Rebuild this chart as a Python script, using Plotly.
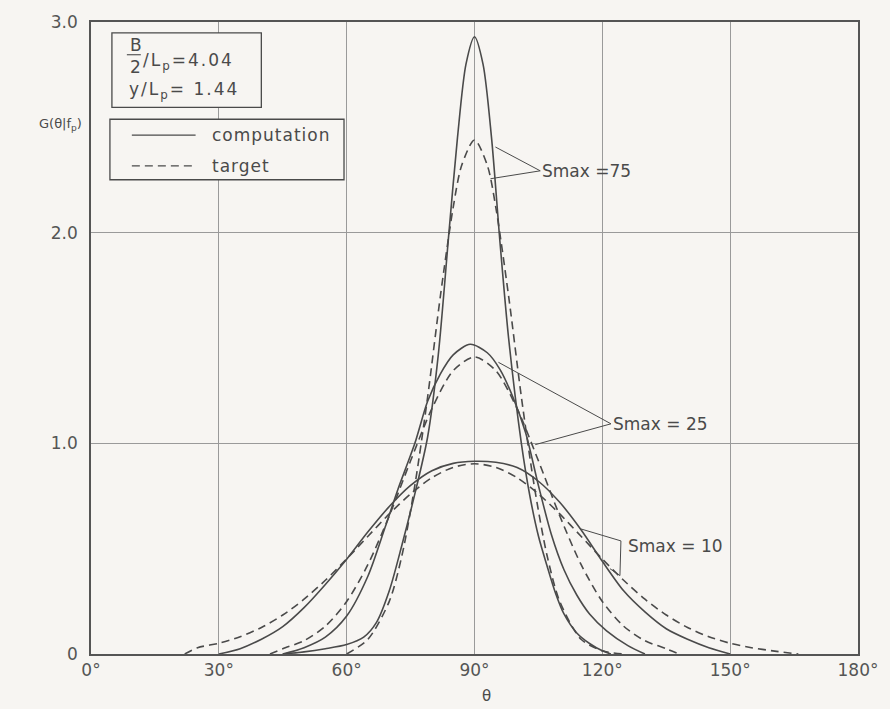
import plotly.graph_objects as go

# ---------------- data ----------------
# Smax = 75
th_75_comp = [45, 50, 55, 60, 64, 67, 70, 73, 76, 79, 81.5, 84, 86, 88, 90, 92, 94, 96, 98, 101, 103, 105, 107, 109, 111, 114, 117, 120, 122]
g_75_comp = [0.0, 0.01, 0.025, 0.045, 0.08, 0.15, 0.3, 0.52, 0.76, 1.03, 1.42, 2.0, 2.45, 2.8, 2.93, 2.8, 2.45, 1.95, 1.5, 1.0, 0.75, 0.56, 0.42, 0.29, 0.19, 0.1, 0.05, 0.015, 0.0]
th_75_tgt = [60, 65, 70, 73, 76, 79, 82, 85, 87, 90, 93, 95, 98, 101, 104, 107, 110, 115, 120, 125]
g_75_tgt = [0.0, 0.07, 0.25, 0.47, 0.8, 1.22, 1.7, 2.12, 2.32, 2.44, 2.32, 2.12, 1.7, 1.22, 0.8, 0.47, 0.25, 0.07, 0.015, 0.0]

# Smax = 25
th_25_comp = [45, 50, 55, 60, 65, 69, 72, 76, 79, 82, 85, 89, 93, 96, 99, 102, 105, 108, 111, 114, 117, 121, 126, 130]
g_25_comp = [0.0, 0.03, 0.08, 0.18, 0.37, 0.6, 0.78, 1.0, 1.2, 1.33, 1.42, 1.47, 1.43, 1.35, 1.22, 1.05, 0.8, 0.57, 0.4, 0.28, 0.19, 0.11, 0.04, 0.0]
th_25_tgt = [42, 45, 50, 55, 60, 65, 70, 75, 80, 85, 90, 95, 100, 105, 110, 115, 120, 125, 130, 135, 138]
g_25_tgt = [0.0, 0.025, 0.063, 0.132, 0.249, 0.425, 0.656, 0.917, 1.165, 1.345, 1.41, 1.345, 1.165, 0.917, 0.656, 0.425, 0.249, 0.132, 0.063, 0.025, 0.0]

# Smax = 10
th_10_comp = [30, 35, 40, 45, 50, 55, 60, 65, 70, 75, 80, 85, 90, 95, 100, 105, 110, 115, 120, 125, 130, 135, 140, 145, 150]
g_10_comp = [0.0, 0.025, 0.07, 0.13, 0.22, 0.33, 0.45, 0.58, 0.7, 0.8, 0.87, 0.905, 0.915, 0.91, 0.885, 0.82, 0.72, 0.59, 0.44, 0.3, 0.2, 0.12, 0.07, 0.03, 0.0]
th_10_tgt = [22, 25, 30, 35, 40, 45, 50, 55, 60, 65, 70, 75, 80, 85, 90, 95, 100, 105, 110, 115, 120, 125, 130, 135, 140, 145, 150, 155, 160, 166]
g_10_tgt = [0.0, 0.03, 0.051, 0.082, 0.126, 0.185, 0.26, 0.35, 0.451, 0.559, 0.665, 0.76, 0.837, 0.886, 0.903, 0.886, 0.837, 0.76, 0.665, 0.559, 0.451, 0.35, 0.26, 0.185, 0.126, 0.082, 0.051, 0.03, 0.015, 0.0]

x_ticks = [0, 30, 60, 90, 120, 150, 180]
x_tick_text = ["0°", "30°", "60°", "90°", "120°", "150°", "180°"]
y_ticks = [0, 1, 2, 3]
y_tick_text = ["0", "1.0", "2.0", "3.0"]

# ---------------- styling ----------------
INK = "#4a4a4a"
BG = "#f7f5f2"
FONT = "DejaVu Sans"
W, H = 890, 709
L, R, T, B = 91, 861, 17, 654


def PX(px):
    return (px - L) / (R - L)


def PY(py):
    return (B - py) / (B - T)


fig = go.Figure()
curves = [
    (th_75_comp, g_75_comp, "solid"),
    (th_75_tgt, g_75_tgt, "dash"),
    (th_25_comp, g_25_comp, "solid"),
    (th_25_tgt, g_25_tgt, "dash"),
    (th_10_comp, g_10_comp, "solid"),
    (th_10_tgt, g_10_tgt, "dash"),
]
for th, g, d in curves:
    fig.add_trace(go.Scatter(
        x=th, y=g, mode="lines", showlegend=False, hoverinfo="skip",
        line=dict(color=INK, width=1.6, shape="spline", smoothing=0.8,
                  dash="solid" if d == "solid" else "8px,5px"),
    ))

shapes = []
annotations = []


def line(x0, y0, x1, y1, dash="solid", width=1.2):
    shapes.append(dict(type="line", xref="paper", yref="paper", x0=PX(x0), y0=PY(y0), x1=PX(x1), y1=PY(y1),
                       line=dict(color=INK, width=width, dash=dash), layer="above"))


def rect(x0, y0, x1, y1):
    shapes.append(dict(type="rect", xref="paper", yref="paper", x0=PX(x0), y0=PY(y0), x1=PX(x1), y1=PY(y1),
                       line=dict(color=INK, width=1.3), fillcolor=BG, layer="above"))


def text(px, py, s, size=15, anchor="left", spacing=None):
    if spacing:
        s = '<span style="letter-spacing:%spx">%s</span>' % (spacing, s)
    annotations.append(dict(x=PX(px), y=PY(py), xref="paper", yref="paper", text=s, showarrow=False,
                            xanchor=anchor, yanchor="middle",
                            font=dict(family=FONT, size=size, color=INK)))


# parameter box
rect(112, 28, 262, 103)
text(128, 40, "B", 17)
line(127, 50, 141, 50, width=1.1)
text(128, 62, "2", 17)
text(141, 57, "/L<sub>p</sub>=4.04", 17, spacing=2)
text(127, 86, "y/L<sub>p</sub>= 1.44", 17, spacing=2)

# legend box
rect(110, 115, 345, 176)
line(132, 131, 196, 131)
text(210, 131, "computation", 17, spacing=1)
line(132, 162, 196, 162, dash="8px,5px")
text(210, 162, "target", 17, spacing=1)

# axis labels
text(84, 120, "G(θ|f<sub>p</sub>)", 13, anchor="right")
text(488, 696, "θ", 15, anchor="center")

# Smax = 75 annotation
text(542, 167, "Smax =75", 17)
line(542, 167, 497, 143, width=1.0)
line(542, 167, 492, 175, width=1.0)

# Smax = 25 annotation
text(613, 422, "Smax = 25", 17)
line(613, 422, 500, 360, width=1.0)
line(613, 422, 537, 443, width=1.0)

# Smax = 10 annotation
text(628, 545, "Smax = 10", 17)
line(583, 528, 623, 540, width=1.0)
line(623, 540, 622, 575, width=1.0)
line(622, 575, 612, 568, width=1.0)

fig.update_layout(
    width=W, height=H,
    margin=dict(l=L, r=W - R, t=T, b=H - B),
    paper_bgcolor=BG, plot_bgcolor=BG,
    shapes=shapes, annotations=annotations,
    font=dict(family=FONT, size=17, color=INK),
    showlegend=False,
    xaxis=dict(range=[0, 180], tickvals=x_ticks, ticktext=x_tick_text,
               showgrid=True, gridcolor="#9a9a9a", gridwidth=1,
               showline=True, linecolor="#555555", linewidth=1.6, mirror=True,
               ticks="", zeroline=False, fixedrange=True,
               tickfont=dict(family=FONT, size=17, color="#555555")),
    yaxis=dict(range=[0, 3], tickvals=y_ticks, ticktext=y_tick_text,
               showgrid=True, gridcolor="#9a9a9a", gridwidth=1,
               showline=True, linecolor="#555555", linewidth=1.6, mirror=True,
               ticks="", zeroline=False, fixedrange=True, ticklabelstandoff=8,
               tickfont=dict(family=FONT, size=17, color="#555555")),
)

fig.write_html(
    "out.html",
    config={"displayModeBar": False},
    post_script="document.body.style.margin='0';document.body.style.background='%s';" % BG,
)
